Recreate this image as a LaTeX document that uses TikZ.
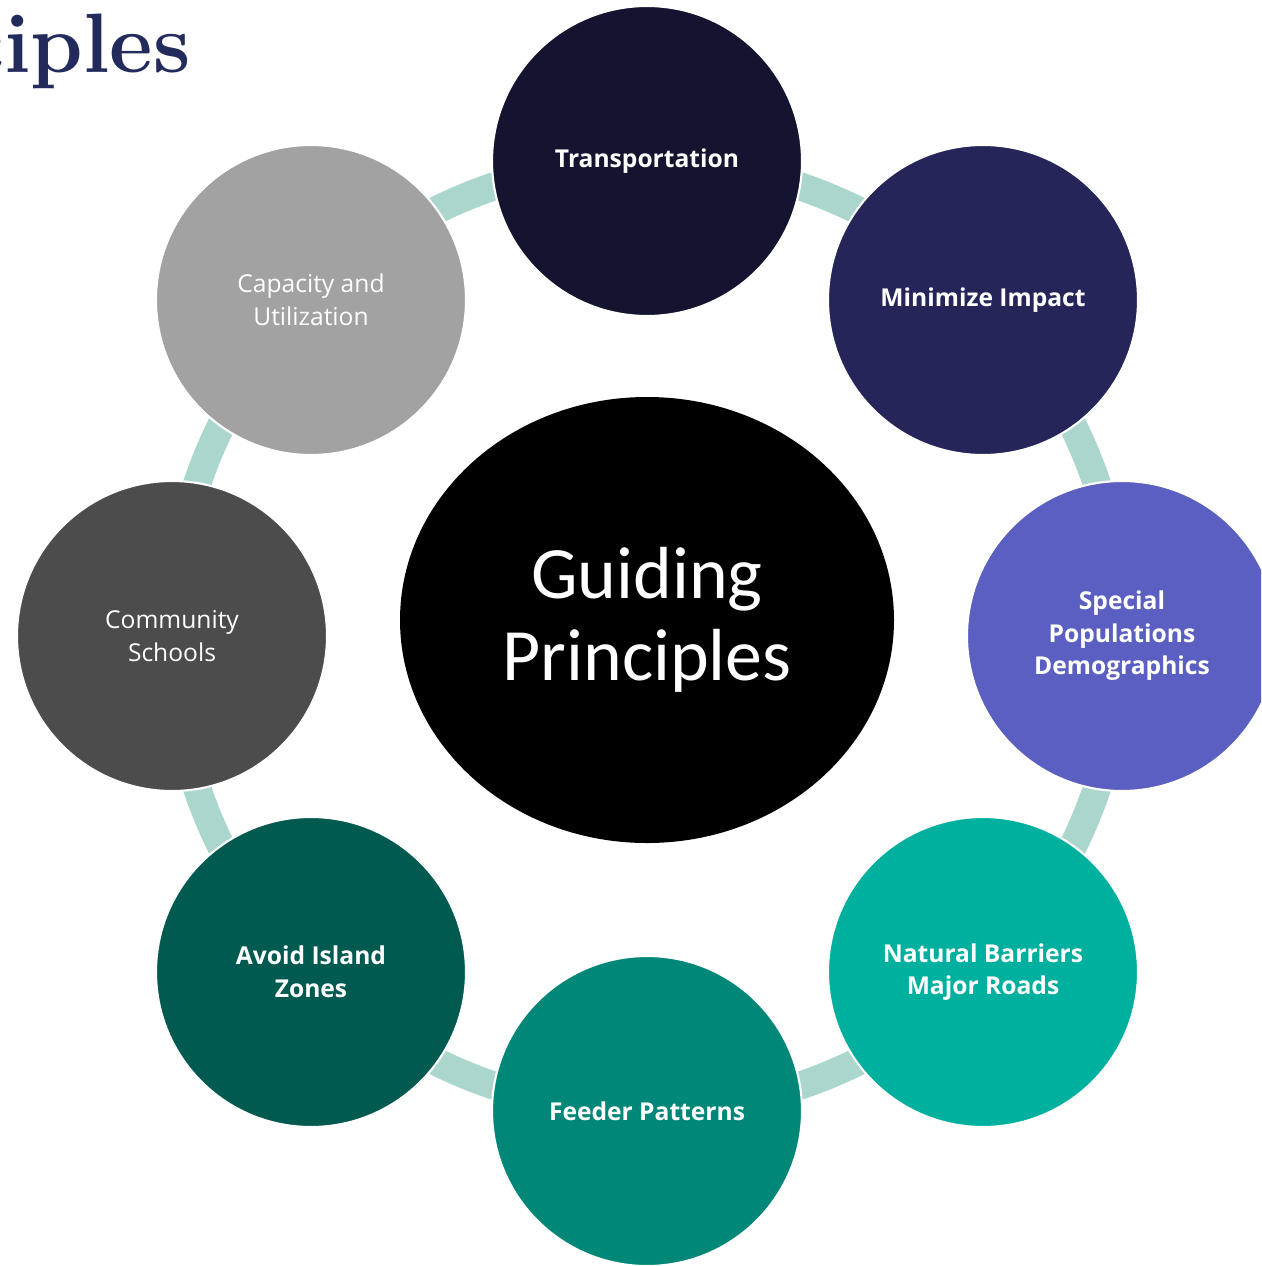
\documentclass[tikz,border=0pt]{standalone}
\usepackage{fontspec}
\setsansfont{Open Sans}
\newfontfamily\calibri{Carlito}
\usepackage{xcolor}
\usetikzlibrary{shapes.geometric,positioning,backgrounds}

\definecolor{titlecol}{HTML}{232A5C}
\definecolor{ringcol}{HTML}{AAD6CD}
\definecolor{transcol}{HTML}{141430}
\definecolor{minimcol}{HTML}{25255A}
\definecolor{specialcol}{HTML}{5B5FC1}
\definecolor{barrierscol}{HTML}{00B09F}
\definecolor{feedercol}{HTML}{008777}
\definecolor{islandcol}{HTML}{005A50}
\definecolor{communitycol}{HTML}{4C4C4C}
\definecolor{capacitycol}{HTML}{A2A2A2}

\begin{document}
\begin{tikzpicture}[x=0.2mm, y=-0.2mm, band/.style = {line width=5.6mm, draw=ringcol}]
				\tikzset{petal/.style={circle, minimum size=62mm, inner sep=0pt, outer sep=0pt, draw=white, line width=1.2pt, text=white, align=center, font=\sffamily\bfseries\fontsize{14}{18.5}\selectfont}}
				\tikzset{plain/.style={font=\sffamily\fontsize{14}{18.5}\selectfont}}

				\useasboundingbox (0,0) rectangle (1261,1266);
				\clip (0,0) rectangle (1261,1266);

				% Titulo
				\node[anchor=base east, inner sep=0pt, text=titlecol, font=\bfseries\fontsize{48}{58}\selectfont] (title) at (191,73) {Principles};

				% Centro
				\node[ellipse, fill=black, minimum width=98.8mm, minimum height=89.2mm, inner sep=0pt, text=white, align=center, font=\calibri\fontsize{42}{47}\selectfont] (guiding) at (647,620) {Guiding\\Principles};

				% Anillo
				\node[petal, fill=transcol] (trans) at (647,161) {Transportation};
				\node[petal, fill=minimcol] (minim) at (983,300) {Minimize Impact};
				\node[petal, fill=specialcol] (special) at (1122,636) {Special\\Populations\\Demographics};
				\node[petal, fill=barrierscol] (barriers) at (983,972) {Natural Barriers\\Major Roads};
				\node[petal, fill=feedercol] (feeder) at (647,1111) {Feeder Patterns};
				\node[petal, fill=islandcol] (island) at (311,972) {Avoid Island\\Zones};
				\node[petal, plain, fill=communitycol] (community) at (172,636) {Community\\Schools};
				\node[petal, plain, fill=capacitycol] (capacity) at (311,300) {Capacity and\\Utilization};

				\begin{scope}[on background layer]
					\fill[white] (0,0) rectangle (1261,1266);
					\foreach \a/\b in {trans/minim, minim/special, special/barriers, barriers/feeder, feeder/island, island/community, community/capacity, capacity/trans}
						\draw[band] (\a.center) to[bend left=22.5, looseness=0.885] (\b.center);
				\end{scope}

			\end{tikzpicture}
\end{document}
